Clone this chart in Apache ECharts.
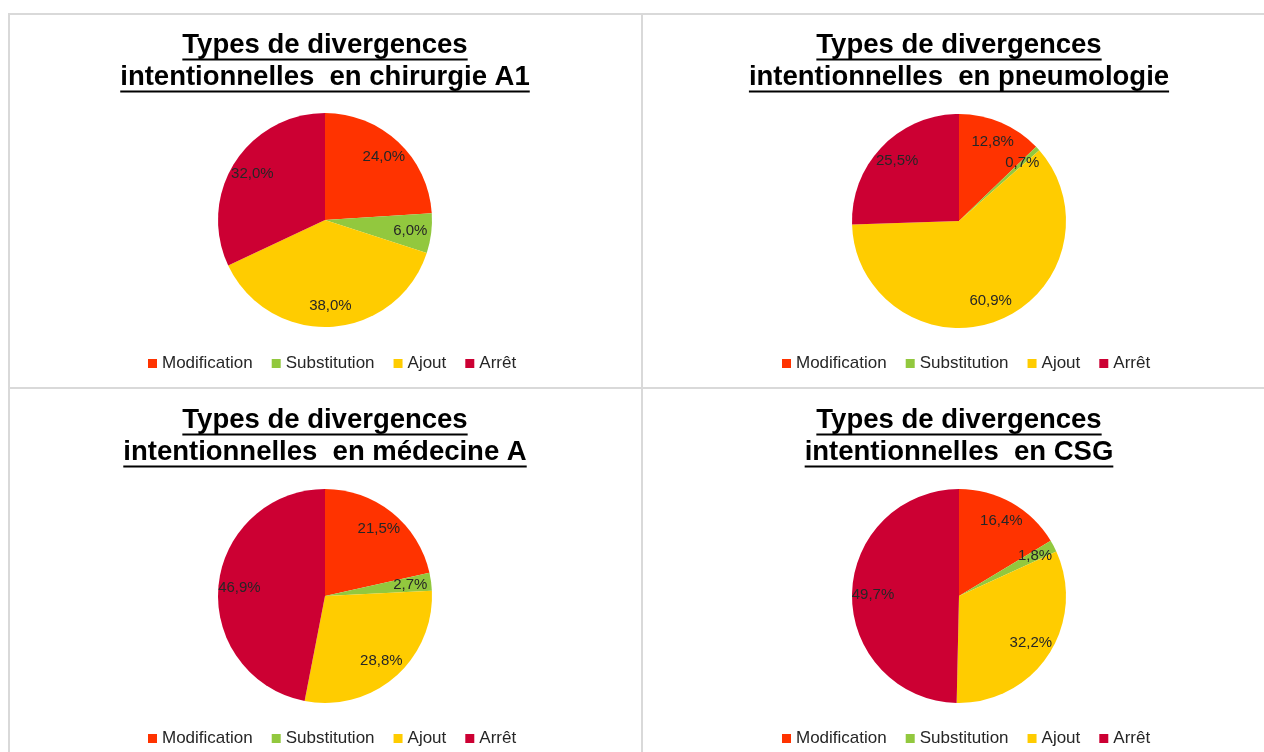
<!DOCTYPE html>
<html>
<head>
<meta charset="utf-8">
<script src="https://cdn.jsdelivr.net/npm/echarts@6/dist/echarts.min.js"></script>
<style>
    html, body { margin: 0; padding: 0; background: #fff; }
    #chart { width: 1264px; height: 752px; }
</style>
</head>
<body>
<div id="chart"></div>
<script>
    // données
    var categories = ['Modification', 'Substitution', 'Ajout', 'Arrêt'];
    var chirurgieA1 = [24.0, 6.0, 38.0, 32.0];
    var pneumologie = [12.8, 0.7, 60.9, 25.5];
    var medecineA = [21.5, 2.7, 28.8, 46.9];
    var csg = [16.4, 1.8, 32.2, 49.7];
    var titles = [
        ['Types de divergences', 'intentionnelles  en chirurgie A1'],
        ['Types de divergences', 'intentionnelles  en pneumologie'],
        ['Types de divergences', 'intentionnelles  en médecine A'],
        ['Types de divergences', 'intentionnelles  en CSG']
    ];

    var colors = ['#ff3300', '#92c83e', '#ffcc00', '#cc0033'];
    var FONT = 'Arial, "Liberation Sans", sans-serif';
    var titleFont = 'bold 27.5px ' + FONT;

    // position des 4 panneaux
    var panels = [
        { cx: 325, cy: 220, top: 0, legendLeft: 143, values: chirurgieA1 },
        { cx: 959, cy: 221, top: 0, legendLeft: 777, values: pneumologie },
        { cx: 325, cy: 596, top: 375, legendLeft: 143, values: medecineA },
        { cx: 959, cy: 596, top: 375, legendLeft: 777, values: csg }
    ];

    var ctx = document.createElement('canvas').getContext('2d');
    ctx.font = titleFont;

    var chart = echarts.init(document.getElementById('chart'));

    var graphic = [
        // cadres gris
        { type: 'rect', shape: { x: 9, y: 13, width: 1260, height: 2 }, style: { fill: '#d9d9d9' } },
        { type: 'rect', shape: { x: 8, y: 13, width: 2, height: 745 }, style: { fill: '#d9d9d9' } },
        { type: 'rect', shape: { x: 641, y: 13, width: 2, height: 745 }, style: { fill: '#d9d9d9' } },
        { type: 'rect', shape: { x: 9, y: 387, width: 1260, height: 2 }, style: { fill: '#d9d9d9' } }
    ];
    var series = [];
    var legends = [];

    panels.forEach(function (p, k) {
        var data = categories.map(function (c, i) {
            return { name: c, value: p.values[i] };
        });
        // titres soulignés
        titles[k].forEach(function (line, j) {
            var baseline = p.top + 55 + j * 32;
            var w = ctx.measureText(line).width;
            graphic.push({
                type: 'text',
                x: p.cx, y: baseline - 9.6,
                style: { text: line, font: titleFont, fill: '#000', align: 'center', verticalAlign: 'middle' }
            });
            graphic.push({
                type: 'rect',
                shape: { x: p.cx - w / 2, y: baseline + 3.5, width: w, height: 2 },
                style: { fill: '#000' }
            });
        });

        series.push({
            type: 'pie',
            center: [p.cx, p.cy],
            radius: [0, 107],
            startAngle: 90,
            label: { show: false },
            labelLine: { show: false },
            itemStyle: { borderWidth: 0 },
            emphasis: { disabled: true },
            data: data
        });
        // série invisible pour placer les étiquettes
        series.push({
            type: 'pie',
            center: [p.cx, p.cy],
            radius: [59, 107],
            startAngle: 90,
            silent: true,
            legendHoverLink: false,
            itemStyle: { color: 'transparent', borderWidth: 0 },
            emphasis: { disabled: true },
            label: {
                show: true,
                position: 'inside',
                color: '#262626',
                fontSize: 15,
                fontFamily: FONT,
                formatter: function (params) {
                    return params.value.toFixed(1).replace('.', ',') + '%';
                }
            },
            labelLine: { show: false },
            data: data
        });

        legends.push({
            left: p.legendLeft,
            top: p.top + 350,
            itemWidth: 9,
            itemHeight: 9,
            itemGap: 19,
            icon: 'rect',
            selectedMode: false,
            textStyle: { fontSize: 17, color: '#262626', fontFamily: FONT },
            data: categories.map(function (c, i) {
                return { name: c, itemStyle: { color: colors[i] } };
            })
        });
    });

    var option = {
        animation: false,
        color: colors,
        legend: legends,
        graphic: graphic,
        series: series
    };
    chart.setOption(option);
</script>
</body>
</html>
